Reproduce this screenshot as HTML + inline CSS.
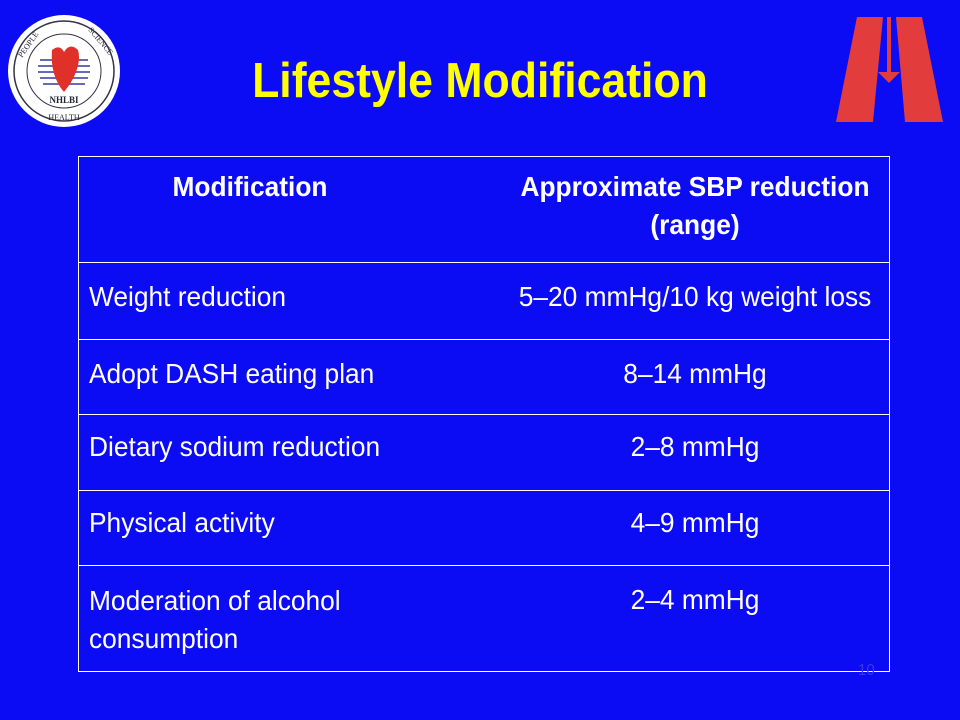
<!DOCTYPE html>
<html><head><meta charset="utf-8"><style>
body{margin:0;width:960px;height:720px;background:#0c0cf4;position:relative;overflow:hidden;font-family:"Liberation Sans",Arial,sans-serif;color:#fff}
.t{position:absolute;font-size:28px;white-space:nowrap;transform:scaleX(0.94);transform-origin:left top}
.c{transform-origin:center top}
.b{font-weight:bold}
.line{position:absolute;left:78px;width:812px;height:1px;background:#fff}
</style></head><body>
<svg style="position:absolute;left:0;top:0" width="130" height="130">
<circle cx="64" cy="71" r="56" fill="#fff"/>
<circle cx="64" cy="71" r="50" fill="none" stroke="#334" stroke-width="1.5"/>
<circle cx="64" cy="71" r="37" fill="none" stroke="#334" stroke-width="1"/>
<g stroke="#6a6ab0" stroke-width="2"><line x1="40" y1="60" x2="88" y2="60"/><line x1="38" y1="66" x2="90" y2="66"/><line x1="38" y1="72" x2="90" y2="72"/><line x1="40" y1="78" x2="88" y2="78"/><line x1="43" y1="84" x2="85" y2="84"/></g>
<path d="M52 50 Q60 44 64 52 Q70 42 78 50 Q82 64 70 84 L64 92 Q50 76 52 50Z" fill="#e0302a"/>
<text x="64" y="103" font-size="9" font-weight="bold" text-anchor="middle" fill="#223" font-family="Liberation Serif">NHLBI</text>
<text x="22" y="58" font-size="8" fill="#223" font-family="Liberation Serif" transform="rotate(-55 22 58)">PEOPLE</text>
<text x="88" y="30" font-size="8" fill="#223" font-family="Liberation Serif" transform="rotate(50 88 30)">SCIENCE</text>
<text x="64" y="120" font-size="8" fill="#223" text-anchor="middle" font-family="Liberation Serif">HEALTH</text>
</svg>
<svg style="position:absolute;left:820px;top:0" width="140" height="130">
<polygon points="37,17 63,17 53,122 16,122" fill="#e23c3c"/>
<polygon points="76,17 102,17 123,122 85,122" fill="#e23c3c"/>
<rect x="67" y="17" width="4" height="56" fill="#e23c3c"/>
<polygon points="58,72 80,72 69,83" fill="#e23c3c"/>
</svg>
<div class="t b c" style="left:0;width:960px;text-align:center;top:53px;font-size:49px;color:#ffff00;transform:scaleX(0.91)">Lifestyle Modification</div>
<div style="position:absolute;left:78px;top:156px;width:810px;height:514px;border:1px solid #fff"></div>
<div class="line" style="top:262px"></div><div class="line" style="top:339px"></div><div class="line" style="top:414px"></div><div class="line" style="top:490px"></div><div class="line" style="top:565px"></div>
<div class="t b c" style="left:78px;width:344px;text-align:center;top:171px">Modification</div>
<div class="t b c" style="left:500px;width:390px;text-align:center;top:168px;line-height:38px">Approximate SBP reduction<br>(range)</div>
<div class="t" style="left:89px;top:281px">Weight reduction</div>
<div class="t c" style="left:500px;width:390px;text-align:center;top:281px">5–20 mmHg/10 kg weight loss</div>
<div class="t" style="left:89px;top:358px">Adopt DASH eating plan</div>
<div class="t c" style="left:500px;width:390px;text-align:center;top:358px">8–14 mmHg</div>
<div class="t" style="left:89px;top:431px">Dietary sodium reduction</div>
<div class="t c" style="left:500px;width:390px;text-align:center;top:431px">2–8 mmHg</div>
<div class="t" style="left:89px;top:507px">Physical activity</div>
<div class="t c" style="left:500px;width:390px;text-align:center;top:507px">4–9 mmHg</div>
<div class="t" style="left:89px;top:582px;line-height:38px">Moderation of alcohol<br>consumption</div>
<div class="t c" style="left:500px;width:390px;text-align:center;top:584px">2–4 mmHg</div>
<div class="t" style="left:858px;top:662px;font-size:16px;color:#3a3ad8">10</div>
</body></html>
